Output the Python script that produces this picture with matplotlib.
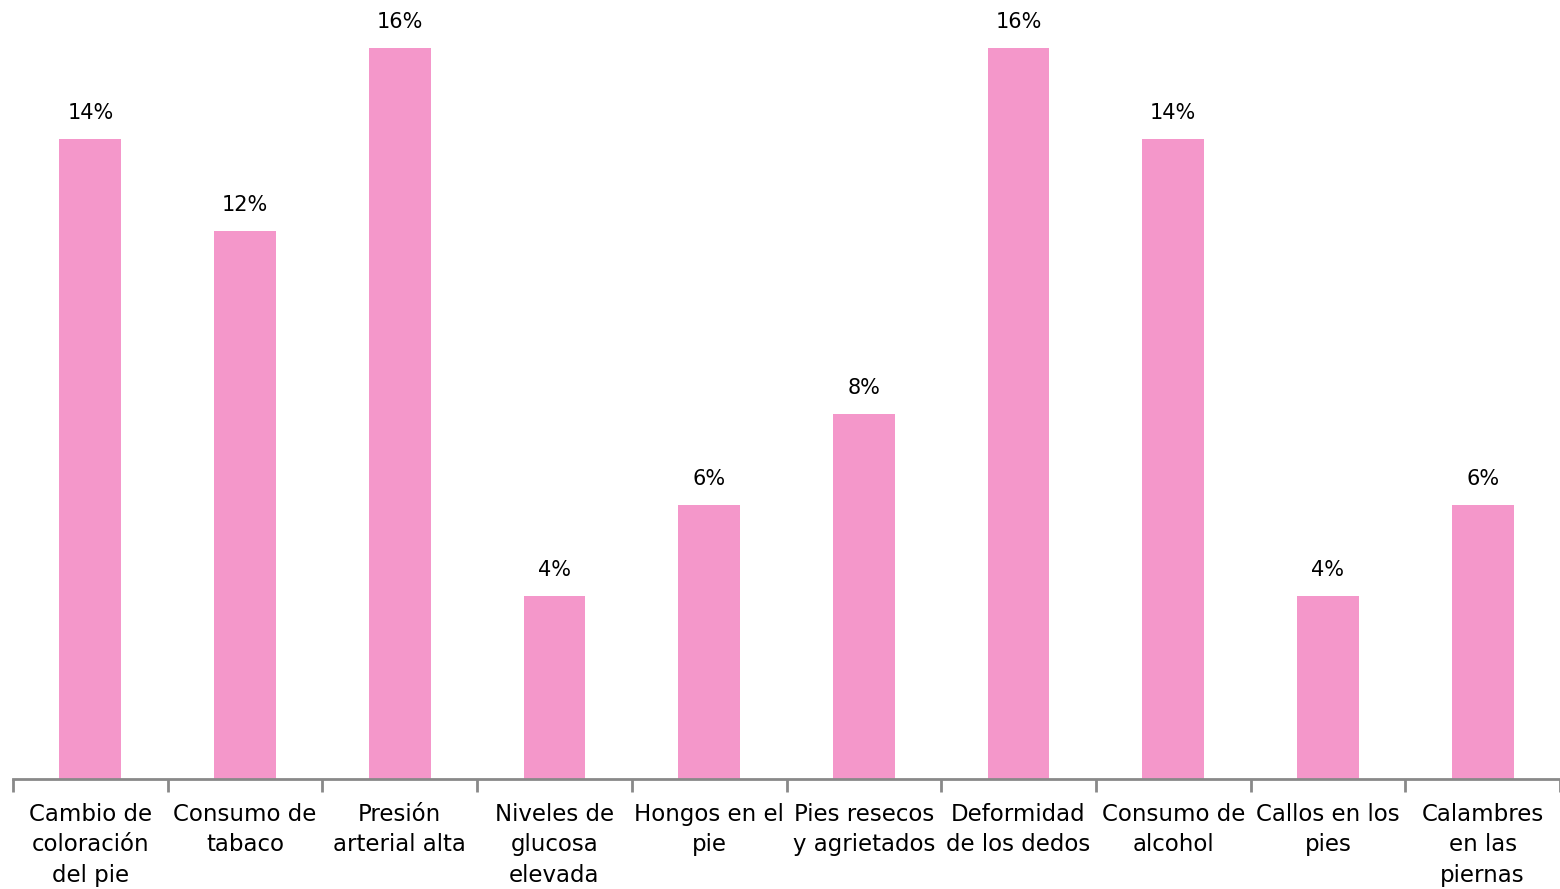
import matplotlib
matplotlib.use("Agg")
import matplotlib.pyplot as plt
import numpy as np

categorias = [
    "Cambio de\ncoloración\ndel pie",
    "Consumo de\ntabaco",
    "Presión\narterial alta",
    "Niveles de\nglucosa\nelevada",
    "Hongos en el\npie",
    "Pies resecos\ny agrietados",
    "Deformidad\nde los dedos",
    "Consumo de\nalcohol",
    "Callos en los\npies",
    "Calambres\nen las\npiernas",
]
valores = [14, 12, 16, 4, 6, 8, 16, 14, 4, 6]

color_barra = "#F497CA"
color_eje = "#898989"

fig = plt.figure(figsize=(15.6, 8.89), dpi=100)
ax = fig.add_axes([13 / 1560, 1 - 779 / 889, 1 - 13 / 1560, (779 - 48) / 889])

x = np.arange(len(categorias))
ax.bar(x, valores, width=0.4, color=color_barra)

for xi, v in zip(x, valores):
    ax.text(xi, v + 0.35, f"{v}%", ha="center", va="bottom", fontsize=15, clip_on=False)

ax.set_xlim(-0.5, len(categorias) - 0.5)
ax.set_ylim(0, 16)
ax.set_yticks([])
for s in ["top", "right", "left"]:
    ax.spines[s].set_visible(False)
ax.spines["bottom"].set_color(color_eje)
ax.spines["bottom"].set_linewidth(2)

ax.set_xticks(x)
ax.set_xticklabels(categorias, fontsize=16.5, linespacing=1.42)
ax.tick_params(axis="x", which="major", length=0, pad=17)
ax.set_xticks(np.arange(len(categorias) + 1) - 0.5, minor=True)
ax.tick_params(axis="x", which="minor", length=9, width=2, color=color_eje)

fig.savefig("out.png", dpi=100)
